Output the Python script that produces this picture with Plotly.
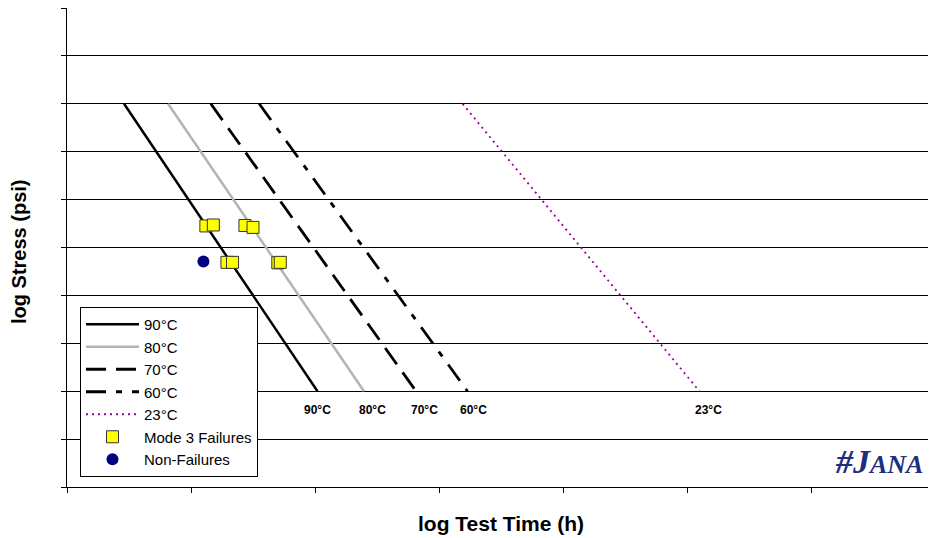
import plotly.graph_objects as go

# Regression lines (log time, log stress) endpoints
line_names = ["90°C", "80°C", "70°C", "60°C", "23°C"]
line_x = [[0.46, 2.02], [0.815, 2.395], [1.16, 2.815], [1.55, 3.23], [3.19, 5.10]]
line_y = [[8.0, 2.0], [8.0, 2.0], [8.0, 2.0], [8.0, 2.0], [8.0, 2.0]]
line_colors = ["#000000", "#b4b4b4", "#000000", "#000000", "#990099"]
line_dash = ["solid", "solid", "20px,10px", "20px,10px,6px,10px", "2px,4px"]
line_width = [2.5, 2.5, 2.8, 2.8, 1.8]

# Data points
fail_x = [1.12, 1.18, 1.435, 1.50, 1.29, 1.335, 1.70, 1.72]
fail_y = [5.45, 5.47, 5.46, 5.42, 4.69, 4.69, 4.68, 4.69]
nonfail_x = [1.10]
nonfail_y = [4.71]

# Line-end labels
label_text = ["90°C", "80°C", "70°C", "60°C", "23°C"]
label_x = [2.02, 2.46, 2.88, 3.28, 5.17]
label_y = [1.6, 1.6, 1.6, 1.6, 1.6]

fig = go.Figure()
for i, (name, xs, ys, c, d, w) in enumerate(zip(line_names, line_x, line_y, line_colors, line_dash, line_width)):
    fig.add_trace(go.Scatter(x=xs, y=ys, mode="lines", name=name, legendgroup="g%d" % i,
                             line=dict(color=c, dash=d, width=w)))

fig.add_trace(go.Scatter(x=fail_x, y=fail_y, mode="markers", name="Mode 3 Failures",
                         legendgroup="g5",
                         marker=dict(symbol="square", size=12, color="#ffff00",
                                     line=dict(color="#333333", width=1))))
fig.add_trace(go.Scatter(x=nonfail_x, y=nonfail_y, mode="markers", name="Non-Failures",
                         legendgroup="g6",
                         marker=dict(symbol="circle", size=12, color="#000080",
                                     line=dict(width=0))))

for t, x, y in zip(label_text, label_x, label_y):
    fig.add_annotation(x=x, y=y, text="<b>%s</b>" % t, showarrow=False,
                       font=dict(family="Arial, Liberation Sans", size=12, color="#000"))

# JANA logo (positions given in window pixels, converted below)
fig.add_annotation(x=925, y=461, xref="paper", yref="paper", showarrow=False,
                   text="<b><i>#J<span style='font-size:26px'>ANA</span></i></b>",
                   font=dict(family="Liberation Serif", size=34, color="#1f2f80"))

# Axis titles
fig.add_annotation(x=501, y=523, text="<b>log Test Time (h)</b>", showarrow=False,
                   xref="paper", yref="paper",
                   font=dict(family="Arial, Liberation Sans", size=21, color="#000"))
fig.add_annotation(x=19, y=252, text="<b>log Stress (psi)</b>", showarrow=False, textangle=-90,
                   xref="paper", yref="paper",
                   font=dict(family="Arial, Liberation Sans", size=20, color="#000"))

# page body has an 8px margin
OFF = 8
W, H = 928, 530
L, R, T, B = 59, 1, 0, 51
pw, ph = W - L - R, H - T - B
for a in fig.layout.annotations:
    if a.xref == "paper":
        a.x = (a.x - OFF - L) / pw
        a.y = (OFF + H - B - a.y) / ph
        a.yanchor = "middle"
        a.xanchor = "right" if "J" in a.text else "center"

axis_common = dict(showgrid=False, zeroline=False, showline=True, linecolor="#000",
                   linewidth=1, mirror=True, ticks="outside", ticklen=5, tickcolor="#000",
                   showticklabels=False, automargin=False)

fig.update_layout(
    width=W, height=H,
    margin=dict(l=L, r=R, t=T, b=B),
    paper_bgcolor="white", plot_bgcolor="white",
    font=dict(family="Arial, Liberation Sans", color="#000"),
    xaxis=dict(range=[0, 7], dtick=1, tick0=0, **axis_common),
    yaxis=dict(range=[0, 10], dtick=1, tick0=0,
               **{**axis_common, "showgrid": True}, gridcolor="#000", gridwidth=1),
    legend=dict(x=(80 - OFF - L) / pw, y=(OFF + H - B - 477) / ph, xanchor="left", yanchor="bottom",
                bgcolor="white", bordercolor="#000", borderwidth=1,
                font=dict(size=15, family="Arial, Liberation Sans"),
                tracegroupgap=0, itemwidth=53),
    showlegend=True,
)

fig.write_html("out.html")
